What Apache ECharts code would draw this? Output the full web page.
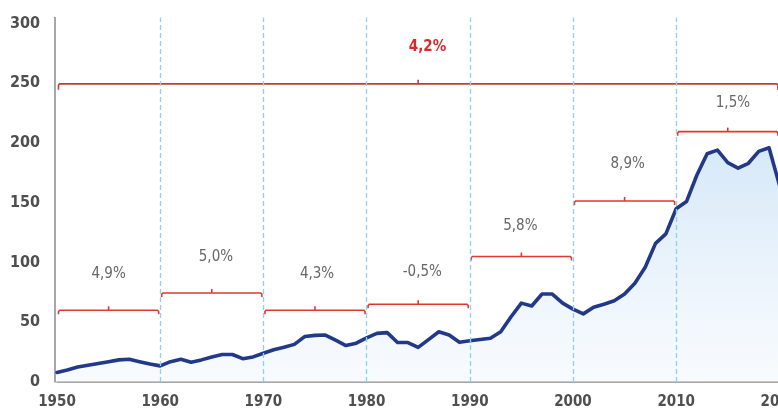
<!DOCTYPE html>
<html><head><meta charset="utf-8">
<script src="https://cdn.jsdelivr.net/npm/echarts@6/dist/echarts.min.js"></script>
<style>html,body{margin:0;padding:0;background:#fff}#c{width:778px;height:410px}</style>
</head><body><div id="c"></div>
<script>
const years = [1950,1951,1952,1953,1954,1955,1956,1957,1958,1959,
  1960,1961,1962,1963,1964,1965,1966,1967,1968,1969,
  1970,1971,1972,1973,1974,1975,1976,1977,1978,1979,
  1980,1981,1982,1983,1984,1985,1986,1987,1988,1989,
  1990,1991,1992,1993,1994,1995,1996,1997,1998,1999,
  2000,2001,2002,2003,2004,2005,2006,2007,2008,2009,
  2010,2011,2012,2013,2014,2015,2016,2017,2018,2019,2020];
const values = [8,10,12.5,14,15.5,17,18.5,19,17,15,
  13.5,17,19,16.5,18.5,21,23,23,19.5,21,
  24,27,29,31.5,38,39,39.3,35,30.5,32.5,
  37,40.7,41.3,33,33,29,35.5,42,39.3,33.2,
  34.5,35.5,36.6,42,54.6,66,63.6,73.6,73.6,66,
  61,57,62.5,65,68,73.6,82.6,96,116,124,
  145,151,173,191,194,183.5,179,183,193,196,165];
const yTicks = [0,50,100,150,200,250,300];
const decades = [1960,1970,1980,1990,2000,2010];
const periodStart = [1950,1960,1970,1980,1990,2000,2010];
const periodEnd   = [1960,1970,1980,1990,2000,2010,2020];
const periodLevel = [60,74.5,60,65,105,151.5,209.5];
const periodLabel = ['4,9%','5,0%','4,3%','-0,5%','5,8%','8,9%','1,5%'];
const labelYear   = [1955,1965.4,1975.2,1985.4,1994.9,2005.3,2015.5];
const labelValue  = [90.4,104.6,90.4,91.6,130.5,182.2,233.2];
const totalStart = 1950, totalEnd = 2020, totalLevel = 249.5;
const totalLabel = '4,2%', totalLabelYear = 1985.9, totalLabelValue = 280;

// pick a condensed font if one is installed
function hasFont(name){
  const c = document.createElement('canvas').getContext('2d');
  const s = 'mmmmmmmmmmlli1950,%';
  const res = ['monospace','serif'].map(f => {
    c.font = '40px ' + f; const a = c.measureText(s).width;
    c.font = '40px "' + name + '",' + f; const b = c.measureText(s).width;
    return a !== b;
  });
  return res[0] || res[1];
}
const candidates = ['Liberation Sans Narrow','Arial Narrow','DejaVu Sans Condensed','Roboto Condensed'];
let FONT = 'Roboto', condensed = false;
for (const f of candidates){ if (hasFont(f)){ FONT = f; condensed = true; break; } }
const FONTFAM = "'" + FONT + "',sans-serif";
const isDejaVu = FONT.indexOf('DejaVu') >= 0;
const tickSize = condensed ? (isDejaVu ? 15 : 16) : 15;
const pctSize = condensed ? (isDejaVu ? 15 : 17) : 15;

const bracketData = periodStart.map((s,i)=>[s, periodEnd[i], periodLevel[i], 0])
  .concat([[totalStart, totalEnd, totalLevel, 1]]);
const labelData = labelYear.map((y,i)=>[y, labelValue[i], 0])
  .concat([[totalLabelYear, totalLabelValue, 1]]);
const labelTexts = periodLabel.concat([totalLabel]);

function bracketItem(params, api){
  const s = api.coord([api.value(0), api.value(2)]);
  const e = api.coord([api.value(1), api.value(2)]);
  const total = api.value(3) === 1;
  const x1 = s[0] + 1.5, x2 = e[0] - 1.5, y = s[1];
  const h = total ? 6 : 4;
  const color = total ? '#b6413b' : '#e2372f';
  const mx = (s[0] + e[0]) / 2;
  return {type:'group', children:[
    {type:'polyline', shape:{points:[[x1,y+h],[x1,y+1.2],[x1+1.2,y],[x2-1.2,y],[x2,y+1.2],[x2,y+h]]},
      style:{stroke:color, fill:null, lineWidth:1.6}},
    {type:'line', shape:{x1:mx, y1:y, x2:mx, y2:y-4}, style:{stroke:color, lineWidth:1.6}}
  ]};
}
function labelItem(params, api){
  const p = api.coord([api.value(0), api.value(1)]);
  const total = api.value(2) === 1;
  return {type:'text', x:p[0], y:p[1], style:{
    text: labelTexts[params.dataIndex], fill: total ? '#d62a2c' : '#666666',
    fontSize: pctSize, fontFamily: FONTFAM, fontWeight: total ? 'bold' : 'normal',
    align:'center', verticalAlign:'middle'}};
}

const chart = echarts.init(document.getElementById('c'), null, {renderer:'canvas'});
chart.setOption({
  animation:false,
  backgroundColor:'#fff',
  grid:{left:57, top:17.5, width:743, height:364.5, containLabel:false, outerBoundsMode:'none'},
  xAxis:{type:'value', min:1950, max:2022, interval:10,
    axisLine:{show:true, lineStyle:{color:'#8a8a8a', width:1.5}},
    axisTick:{show:false}, splitLine:{show:false},
    axisLabel:{margin:13, color:'#4f4f4f', fontSize:tickSize, fontWeight:'bold', fontFamily:FONTFAM,
      hideOverlap:false, formatter:v => (v % 10 === 0 ? String(v) : '')}},
  yAxis:{type:'value', min:0, max:305, interval:50, offset:2,
    axisLine:{show:true, lineStyle:{color:'#8a8a8a', width:1.5}},
    axisTick:{show:false}, splitLine:{show:false},
    axisLabel:{margin:15, color:'#4f4f4f', fontSize:tickSize+1, fontWeight:'bold', fontFamily:FONTFAM,
      formatter:v => (yTicks.indexOf(v) >= 0 ? String(v) : '')}},
  series:[
    {type:'line', data:years.map((y,i)=>[y, values[i]]), symbol:'none', smooth:false,
      lineStyle:{color:'#22398a', width:3.6, join:'round', cap:'round'},
      areaStyle:{color:new echarts.graphic.LinearGradient(0,0,0,1,[
        {offset:0, color:'rgba(190,219,244,0.9)'},{offset:1, color:'rgba(238,245,252,0.6)'}])},
      markLine:{silent:true, symbol:['none','none'], label:{show:false},
        lineStyle:{type:[5,3], color:'#8fd0ea', width:1.3},
        data:decades.map(d=>({xAxis:d}))},
      z:2},
    {type:'custom', renderItem:bracketItem, data:bracketData, encode:{x:[0,1], y:2}, z:3, silent:true},
    {type:'custom', renderItem:labelItem, data:labelData, encode:{x:0, y:1}, z:4, silent:true}
  ]
});
</script></body></html>
